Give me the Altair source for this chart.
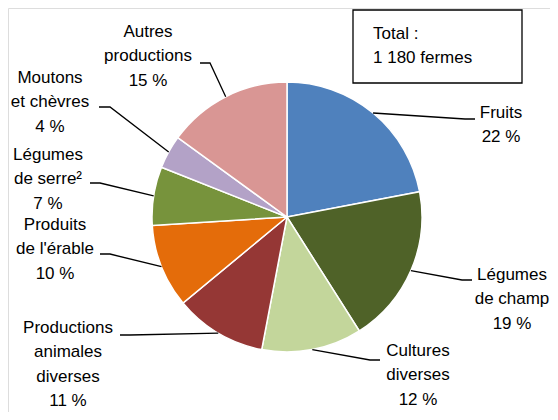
import math
import altair as alt
import pandas as pd

# ---- data ----
categories = ["Fruits", "Légumes de champ", "Cultures diverses",
              "Productions animales diverses", "Produits de l'érable",
              "Légumes de serre", "Moutons et chèvres", "Autres productions"]
values = [22, 19, 12, 11, 10, 7, 4, 15]
label_lines = [
    ["Fruits", "22 %"],
    ["Légumes", "de champ", "19 %"],
    ["Cultures", "diverses", "12 %"],
    ["Productions", "animales", "diverses", "11 %"],
    ["Produits", "de l'érable", "10 %"],
    ["Légumes", "de serre²", "7 %"],
    ["Moutons", "et chèvres", "4 %"],
    ["Autres", "productions", "15 %"],
]
total_text = "Total :\n1 180 fermes"

# ---- styles ----
colors = ["#4F81BD", "#4F6228", "#C3D69B", "#953735",
          "#E46C0A", "#77933C", "#B3A2C7", "#D99694"]
FONT = "Liberation Sans"
FS = 17
LH = 24.3

# ---- layout (page pixel coordinates) ----
W, H = 542, 404
OFF = 8
CX, CY, R = 287, 217, 135
label_x = [501, 512, 418, 68, 55, 48, 50, 148]
label_y = [118, 280, 356, 333, 230, 160, 83, 37]
elbow_x = [465, 462, 370, 130, 110, 100, 110, 210]
elbow_y = [119, 280, 360, 335, 254, 183, 107, 63]
end_x = [475, 472, 380, 120, 100, 90, 99, 200]
box = dict(x=353, x2=522, y=10, y2=83)
total_pos = (373, 39)

# ---- tables ----
pie_df = pd.DataFrame({"cat": categories, "value": values,
                       "idx": list(range(len(values)))})

tot = sum(values)
rows = []
cum = 0
for i, v in enumerate(values):
    mid = (cum + v / 2) / tot * 2 * math.pi
    cum += v
    sx = CX + R * math.sin(mid)
    sy = CY - R * math.cos(mid)
    rows.append({"cat": categories[i], "k": 0, "x": sx, "y": sy})
    rows.append({"cat": categories[i], "k": 1, "x": elbow_x[i], "y": elbow_y[i]})
    rows.append({"cat": categories[i], "k": 2, "x": end_x[i], "y": elbow_y[i]})
lead_df = pd.DataFrame(rows)

lab_df = pd.DataFrame({"cat": categories,
                       "txt": ["\n".join(l) for l in label_lines],
                       "x": label_x, "y": label_y})

xs = alt.Scale(domain=[OFF, OFF + W], range=[0, W])
ys = alt.Scale(domain=[OFF, OFF + H], range=[0, H])

pie = alt.Chart(pie_df).mark_arc(radius=R, stroke="white", strokeWidth=1.5).encode(
    theta=alt.Theta("value:Q", stack=True),
    order=alt.Order("idx:Q"),
    color=alt.Color("cat:N", scale=alt.Scale(domain=categories, range=colors), legend=None),
    x=alt.value(CX - OFF),
    y=alt.value(CY - OFF),
)

leaders = alt.Chart(lead_df).mark_line(color="black", strokeWidth=1.3).encode(
    x=alt.X("x:Q", scale=xs, axis=None),
    y=alt.Y("y:Q", scale=ys, axis=None),
    detail="cat:N",
    order="k:Q",
)

labels = alt.Chart(lab_df).mark_text(
    font=FONT, fontSize=FS, lineBreak="\n", lineHeight=LH,
    align="center", baseline="alphabetic", color="black"
).encode(
    x=alt.X("x:Q", scale=xs, axis=None),
    y=alt.Y("y:Q", scale=ys, axis=None),
    text="txt:N",
)

box_df = pd.DataFrame([box])
boxm = alt.Chart(box_df).mark_rect(fill="white", stroke="black", strokeWidth=1.3).encode(
    x=alt.X("x:Q", scale=xs, axis=None), x2="x2:Q",
    y=alt.Y("y:Q", scale=ys, axis=None), y2="y2:Q",
)

tot_df = pd.DataFrame({"x": [total_pos[0]], "y": [total_pos[1]], "t": [total_text]})
totm = alt.Chart(tot_df).mark_text(
    font=FONT, fontSize=FS, lineBreak="\n", lineHeight=LH,
    align="left", baseline="alphabetic", color="black"
).encode(
    x=alt.X("x:Q", scale=xs, axis=None),
    y=alt.Y("y:Q", scale=ys, axis=None),
    text="t:N",
)

chart = alt.layer(pie, leaders, labels, boxm, totm).properties(
    width=W, height=H, padding=0,
    autosize=alt.AutoSizeParams(type="none"),
).configure_view(stroke=None).configure(background="white")

chart.save("out.html", embed_options={"renderer": "svg", "actions": False})
